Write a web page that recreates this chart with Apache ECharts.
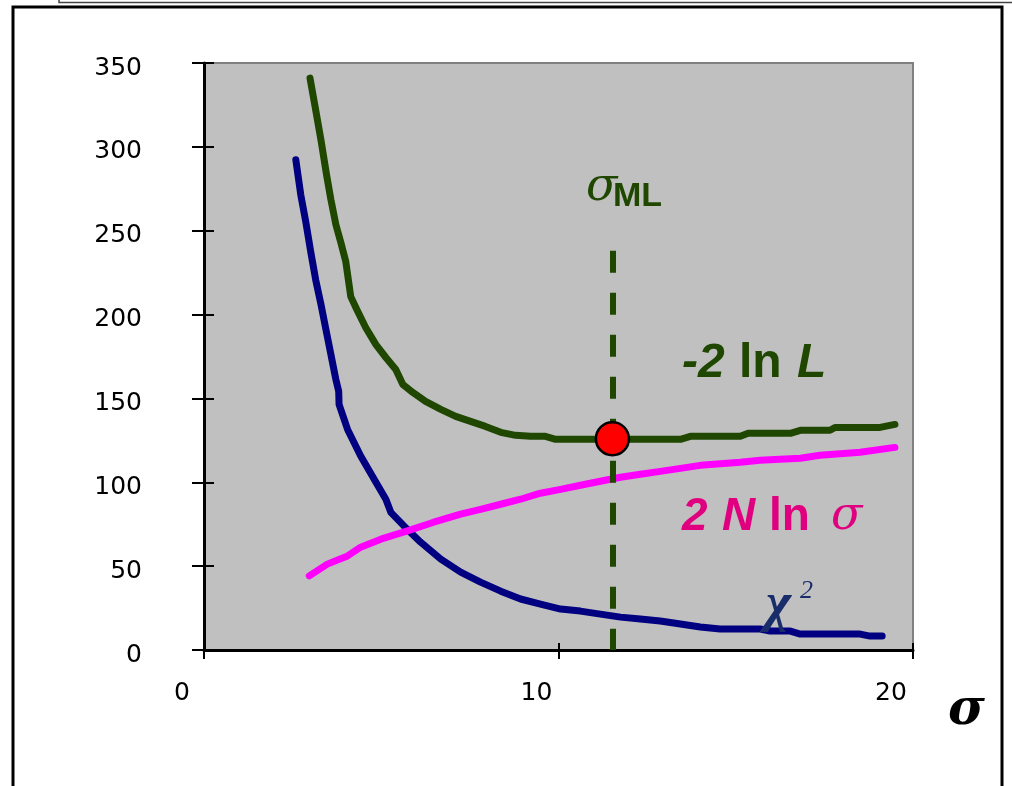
<!DOCTYPE html>
<html>
<head>
<meta charset="utf-8">
<script src="https://cdn.jsdelivr.net/npm/echarts@6/dist/echarts.min.js"></script>
<style>
html,body{margin:0;padding:0;background:#fff;}
#c{width:1012px;height:786px;}
</style>
</head>
<body>
<div id="c"></div>
<script>
// ---- data (sigma, value) ----
const xTicks = [0, 10, 20];
const yTicks = [0, 50, 100, 150, 200, 250, 300, 350];

const sigmaL = [2.99,3.15,3.30,3.46,3.58,3.72,3.86,4.00,4.14,4.31,4.56,4.85,5.13,5.41,5.61,5.89,6.25,6.68,7.10,7.52,7.94,8.37,8.79,9.21,9.63,9.92,11.18,13.44,13.72,15.13,15.35,16.54,16.82,17.66,17.80,19.07,19.49];
const minus2lnL = [341,322,304,283,268.5,253.6,243,231.5,210.7,203,192.3,182.1,174.4,167.3,158.3,153.6,148.2,143.5,139.3,136.3,133.3,129.8,128,127.4,127.4,125.6,125.6,125.6,127.4,127.4,129.2,129.2,131,131,132.7,132.7,134.5];

const sigmaChi = [2.59,2.73,2.87,3.01,3.15,3.30,3.44,3.58,3.72,3.80,3.81,4.05,4.42,4.80,5.13,5.27,5.64,6.11,6.68,7.24,7.80,8.37,8.93,9.49,10.06,10.62,11.18,11.75,12.31,12.87,13.44,14.00,14.56,15.69,15.97,16.54,16.82,18.51,18.79,19.13];
const chi2 = [292.3,271.4,255.4,237.5,220.8,206,191,176.2,161.3,154.2,146.4,131.5,115.7,101.8,89.9,82.1,74,64.3,54.2,46.4,40.5,35.1,30.4,27.4,24.4,23.2,21.4,19.6,18.5,17.3,15.5,13.7,12.5,12.5,11.3,11.3,9.5,9.5,8.3,8.3];

const sigmaN = [2.97,3.48,4.05,4.42,4.99,5.74,6.48,7.24,7.80,8.37,8.93,9.49,10.06,10.62,11.18,11.75,12.31,12.87,13.44,14.00,15.13,15.69,16.82,17.38,18.51,19.49];
const twoNlnSigma = [44.2,51.2,56.1,61.3,66.1,71,76.2,81,83.9,86.9,89.9,93.5,95.8,98.2,100.6,103,104.8,106.5,108.3,110.1,111.9,113.1,114.3,116.1,117.9,120.8];

const sigmaML = 11.52;
const minL = 126;
const dashTop = 238;

const pair = (xs, ys) => xs.map((x, i) => [x, ys[i]]);

const GREEN = '#1f4700';
const NAVY = '#000080';
const MAGENTA = '#ff00ff';
const PINK = '#e0007f';
const CHI = '#1a2d6b';

const chart = echarts.init(document.getElementById('c'), null, {renderer: 'canvas'});

const axisFont = {fontFamily: 'DejaVu Sans', fontSize: 25, color: '#000'};

chart.setOption({
  animation: false,
  backgroundColor: '#fff',
  grid: {left: 204, right: 99, top: 63, bottom: 136, show: true, backgroundColor: '#c0c0c0', borderColor: '#808080', borderWidth: 2},
  xAxis: [
    {type: 'value', position: 'bottom', min: 0, max: 20, interval: 10,
     axisLine: {show: true, onZero: false, lineStyle: {color: '#000', width: 3}},
     axisTick: {show: true, length: 9, lineStyle: {color: '#000', width: 2}},
     axisLabel: Object.assign({margin: 31, padding: [0, 44, 0, 0]}, axisFont),
     splitLine: {show: false}},
    {type: 'value', position: 'bottom', min: 0, max: 20, interval: 10,
     axisLine: {show: false, onZero: false},
     axisTick: {show: true, inside: true, length: 7, lineStyle: {color: '#000', width: 2}},
     axisLabel: {show: false}, splitLine: {show: false}}
  ],
  yAxis: [
    {type: 'value', position: 'left', min: 0, max: 350, interval: 50,
     axisLine: {show: true, onZero: false, lineStyle: {color: '#000', width: 3}},
     axisTick: {show: true, length: 12, lineStyle: {color: '#000', width: 2}},
     axisLabel: Object.assign({margin: 62, verticalAlign: 'top', lineHeight: 10}, axisFont),
     splitLine: {show: false}},
    {type: 'value', position: 'left', min: 0, max: 350, interval: 50,
     axisLine: {show: false, onZero: false},
     axisTick: {show: true, inside: true, length: 10, lineStyle: {color: '#000', width: 2}},
     axisLabel: {show: false}, splitLine: {show: false}}
  ],
  series: [
    {type: 'line', data: pair(sigmaChi, chi2), showSymbol: false, z: 3,
     lineStyle: {color: NAVY, width: 7, cap: 'round', join: 'round'}},
    {type: 'line', data: pair(sigmaN, twoNlnSigma), showSymbol: false, z: 3,
     lineStyle: {color: MAGENTA, width: 7, cap: 'round', join: 'round'}},
    {type: 'line', data: pair(sigmaL, minus2lnL), showSymbol: false, z: 4,
     lineStyle: {color: GREEN, width: 7, cap: 'round', join: 'round'},
     markLine: {silent: true, symbol: ['none', 'none'], label: {show: false},
       lineStyle: {color: GREEN, width: 6, type: [22, 20]},
       data: [[{coord: [sigmaML, dashTop]}, {coord: [sigmaML, 0]}]]}},
    {type: 'scatter', data: [[sigmaML, minL]], symbol: 'circle', symbolSize: 33, z: 6,
     itemStyle: {color: '#ff0000', borderColor: '#000', borderWidth: 2.5, opacity: 1}}
  ],
  graphic: [
    {type: 'rect', shape: {x: 13, y: 7, width: 989, height: 800}, style: {fill: 'none', stroke: '#000', lineWidth: 3}, z: 0},
    {type: 'rect', shape: {x: 59, y: -10, width: 960, height: 12.5}, style: {fill: 'none', stroke: '#444', lineWidth: 1.5}, z: 0},
    // sigma_ML label
    {type: 'text', x: 586, y: 188, z: 20, style: {text: 'σ', fontFamily: 'DejaVu Serif', fontStyle: 'italic', fontSize: 46, fill: GREEN, verticalAlign: 'middle'}},
    {type: 'text', x: 613, y: 197, z: 20, style: {text: 'ML', fontFamily: 'Liberation Sans', fontWeight: 'bold', fontSize: 34, fill: GREEN, verticalAlign: 'middle'}},
    // -2 ln L
    {type: 'text', x: 682, y: 364, z: 20, style: {text: '-2', fontFamily: 'Liberation Sans', fontStyle: 'italic', fontWeight: 'bold', fontSize: 48, fill: GREEN, verticalAlign: 'middle'}},
    {type: 'text', x: 739, y: 364, z: 20, style: {text: 'ln', fontFamily: 'Liberation Sans', fontWeight: 'bold', fontSize: 48, fill: GREEN, verticalAlign: 'middle'}},
    {type: 'text', x: 797, y: 364, z: 20, style: {text: 'L', fontFamily: 'Liberation Sans', fontStyle: 'italic', fontWeight: 'bold', fontSize: 48, fill: GREEN, verticalAlign: 'middle'}},
    // 2 N ln sigma
    {type: 'text', x: 682, y: 517, z: 20, style: {text: '2', fontFamily: 'Liberation Sans', fontStyle: 'italic', fontWeight: 'bold', fontSize: 46, fill: PINK, verticalAlign: 'middle'}},
    {type: 'text', x: 722, y: 517, z: 20, style: {text: 'N', fontFamily: 'Liberation Sans', fontStyle: 'italic', fontWeight: 'bold', fontSize: 46, fill: PINK, verticalAlign: 'middle'}},
    {type: 'text', x: 769, y: 517, z: 20, style: {text: 'ln', fontFamily: 'Liberation Sans', fontWeight: 'bold', fontSize: 46, fill: PINK, verticalAlign: 'middle'}},
    {type: 'text', x: 831, y: 517, z: 20, style: {text: 'σ', fontFamily: 'DejaVu Serif', fontStyle: 'italic', fontSize: 46, fill: PINK, verticalAlign: 'middle'}},
    // chi^2
    {type: 'text', x: 766, y: 606, z: 20, style: {text: 'χ', fontFamily: 'Liberation Serif', fontStyle: 'italic', fontWeight: 'bold', fontSize: 54, fill: CHI, verticalAlign: 'middle'}},
    {type: 'text', x: 800, y: 591, z: 20, style: {text: '2', fontFamily: 'Liberation Serif', fontStyle: 'italic', fontSize: 26, fill: CHI, verticalAlign: 'middle'}},
    // axis title sigma
    {type: 'text', x: 948, y: 711, z: 20, style: {text: 'σ', fontFamily: 'DejaVu Serif', fontStyle: 'italic', fontWeight: 'bold', fontSize: 50, fill: '#000', verticalAlign: 'middle'}}
  ]
});
</script>
</body>
</html>
